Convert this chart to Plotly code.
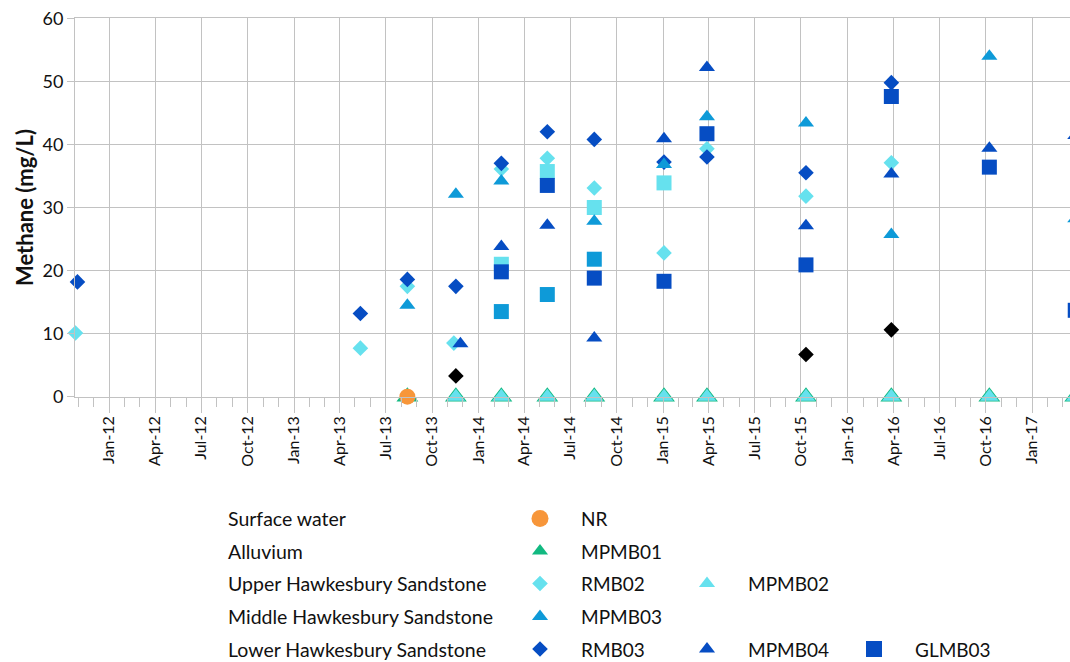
import datetime as dt
import plotly.graph_objects as go

# ---------------- data ----------------
nr_dates = ["2013-08-13"]
nr_vals = [0]

mpmb01_dates = ["2013-08-13", "2013-11-17", "2014-02-15", "2014-05-17", "2014-08-18",
                "2015-01-03", "2015-03-29", "2015-10-11", "2016-03-28", "2016-10-08", "2017-03-27"]
mpmb01_vals = [0, 0, 0, 0, 0, 0, 0, 0, 0, 0, 0]

mpmb02_dates = ["2013-11-17", "2014-02-15", "2014-05-17", "2014-08-18",
                "2015-01-03", "2015-03-29", "2015-10-11", "2016-03-28", "2016-10-08", "2017-03-27"]
mpmb02_vals = [0, 0, 0, 0, 0, 0, 0, 0, 0, 0]

rmb02_dates = ["2011-10-26", "2013-05-12", "2013-08-13", "2013-11-13", "2014-02-15", "2014-05-17",
               "2014-08-18", "2015-01-03", "2015-03-29", "2015-10-11", "2016-03-28"]
rmb02_vals = [10.1, 7.7, 17.5, 8.5, 36.1, 37.8, 33.1, 22.8, 39.3, 31.8, 37.1]

glmb01_dates = ["2014-02-15", "2014-05-17", "2014-08-18", "2015-01-03"]
glmb01_vals = [21.0, 35.7, 30.0, 33.9]

rmb03_dates = ["2011-10-30", "2013-05-12", "2013-08-13", "2013-11-17", "2014-02-15", "2014-05-17",
               "2014-08-18", "2015-01-03", "2015-03-29", "2015-10-11", "2016-03-28"]
rmb03_vals = [18.2, 13.2, 18.6, 17.5, 37.0, 42.0, 40.8, 37.2, 38.0, 35.5, 49.8]

mpmb03_dates = ["2013-08-13", "2013-11-17", "2014-02-15", "2014-08-18", "2015-01-03",
                "2015-03-29", "2015-10-11", "2016-03-28", "2016-10-08", "2017-03-27"]
mpmb03_vals = [14.5, 32.1, 34.2, 27.8, 36.8, 44.4, 43.4, 25.7, 54.0, 28.2]

glmb02_dates = ["2014-02-15", "2014-05-17", "2014-08-18"]
glmb02_vals = [13.5, 16.2, 21.8]

mpmb04_dates = ["2013-11-26", "2014-02-15", "2014-05-17", "2014-08-18", "2015-01-03",
                "2015-03-29", "2015-10-11", "2016-03-28", "2016-10-08", "2017-03-27"]
mpmb04_vals = [8.4, 23.8, 27.2, 9.3, 40.9, 52.2, 27.1, 35.3, 39.4, 41.4]

glmb03_dates = ["2014-02-15", "2014-05-17", "2014-08-18", "2015-01-03", "2015-03-29",
                "2015-10-11", "2016-03-28", "2016-10-08", "2017-03-27"]
glmb03_vals = [19.8, 33.5, 18.8, 18.3, 41.7, 20.9, 47.6, 36.4, 13.7]

other_dates = ["2013-11-17", "2015-10-11", "2016-03-28"]
other_vals = [3.3, 6.7, 10.6]

row_labels = ["Surface water", "Alluvium", "Upper Hawkesbury Sandstone",
              "Middle Hawkesbury Sandstone", "Lower Hawkesbury Sandstone"]
# legend layout: (row, column, series name)
legend_items = [(0, 0, "NR"), (1, 0, "MPMB01"), (2, 0, "RMB02"), (2, 1, "MPMB02"),
                (3, 0, "MPMB03"), (4, 0, "RMB03"), (4, 1, "MPMB04"), (4, 2, "GLMB03")]

# ---------------- styles ----------------
ORANGE = "#F7963A"
GREEN = "#12B981"
LIGHT = "#66E1EE"
MID = "#0E9AD8"
DARK = "#064DC3"

styles = {
    "MPMB01": dict(symbol="triangle-up", color=GREEN, size=19, lsize=14),
    "MPMB02": dict(symbol="triangle-up", color=LIGHT, size=16, lsize=14),
    "RMB02": dict(symbol="diamond", color=LIGHT, size=12, lsize=12),
    "GLMB01": dict(symbol="square", color=LIGHT, size=15, lsize=15),
    "RMB03": dict(symbol="diamond", color=DARK, size=12, lsize=12),
    "MPMB03": dict(symbol="triangle-up", color=MID, size=14, lsize=14),
    "GLMB02": dict(symbol="square", color=MID, size=15, lsize=15),
    "MPMB04": dict(symbol="triangle-up", color=DARK, size=14, lsize=14),
    "GLMB03": dict(symbol="square", color=DARK, size=15, lsize=16),
    "Other": dict(symbol="diamond", color="#000000", size=12, lsize=12),
    "NR": dict(symbol="circle", color=ORANGE, size=16, lsize=17),
}

series = [
    ("MPMB01", mpmb01_dates, mpmb01_vals),
    ("MPMB02", mpmb02_dates, mpmb02_vals),
    ("RMB02", rmb02_dates, rmb02_vals),
    ("GLMB01", glmb01_dates, glmb01_vals),
    ("RMB03", rmb03_dates, rmb03_vals),
    ("MPMB03", mpmb03_dates, mpmb03_vals),
    ("GLMB02", glmb02_dates, glmb02_vals),
    ("MPMB04", mpmb04_dates, mpmb04_vals),
    ("GLMB03", glmb03_dates, glmb03_vals),
    ("Other", other_dates, other_vals),
    ("NR", nr_dates, nr_vals),
]

FONT = "Lato"
VIEW_W, H = 1070, 662
W = 1100                     # figure runs past the window's right edge (as the cropped original)
PLOT_LEFT = 75
PX_PER_DAY = 0.5052
JAN12_PX = 109.3
jan12 = dt.datetime(2012, 1, 1)
x_start = jan12 - dt.timedelta(days=(JAN12_PX - PLOT_LEFT) / PX_PER_DAY)
x_end = jan12 + dt.timedelta(days=(W - JAN12_PX) / PX_PER_DAY)

fig = go.Figure()
for name, d, v in series:
    s = styles[name]
    fig.add_trace(go.Scatter(
        x=d, y=v, mode="markers", name=name, showlegend=False, cliponaxis=False,
        marker=dict(symbol=s["symbol"], color=s["color"], size=s["size"], line=dict(width=0)),
        xaxis="x", yaxis="y"))

# ---------------- custom legend (window-pixel helper axes) ----------------
row_y = [518.5, 551, 583.5, 616.5, 649]
col_x = [540, 707, 874]
annotations = []
for i, lab in enumerate(row_labels):
    annotations.append(dict(x=226, y=row_y[i], xref="x2", yref="y2", text=lab, showarrow=False,
                            xanchor="left", yanchor="middle",
                            font=dict(family=FONT, size=19.5, color="#111111")))
for r, c, name in legend_items:
    s = styles[name]
    fig.add_trace(go.Scatter(
        x=[col_x[c]], y=[row_y[r]], mode="markers", showlegend=False, hoverinfo="skip",
        marker=dict(symbol=s["symbol"], color=s["color"], size=s["lsize"], line=dict(width=0)),
        xaxis="x2", yaxis="y2"))
    annotations.append(dict(x=col_x[c] + 39, y=row_y[r], xref="x2", yref="y2", text=name,
                            showarrow=False, xanchor="left", yanchor="middle",
                            font=dict(family=FONT, size=19, color="#111111")))

annotations.append(dict(x=24 / W, y=(H - 208) / H, xref="paper", yref="paper",
                        text="<b>Methane (mg/L)</b>", textangle=-90, showarrow=False,
                        xanchor="center", yanchor="middle",
                        font=dict(family=FONT, size=22, color="#111111")))

GRID = "#c2c2c2"
fig.update_layout(
    width=W, height=H,
    margin=dict(l=0, r=0, t=0, b=0),
    paper_bgcolor="white", plot_bgcolor="rgba(0,0,0,0)",
    font=dict(family=FONT, color="#111111"),
    annotations=annotations,
    xaxis=dict(
        domain=[PLOT_LEFT / W, 1], range=[x_start, x_end],
        type="date", tickmode="linear", tick0="2012-01-01", dtick="M3",
        tickformat="%b-%y", tickangle=-90, ticks="outside", ticklen=15, tickcolor=GRID,
        showgrid=True, gridcolor=GRID, gridwidth=1,
        showline=True, linecolor=GRID, linewidth=1, mirror=True,
        minor=dict(dtick="M1", tick0="2011-11-01", ticks="outside", ticklen=9,
                   tickcolor=GRID, showgrid=False),
        tickfont=dict(family=FONT, size=16, color="#111111"),
        ticklabelstandoff=-3, automargin=False, zeroline=False, anchor="y",
    ),
    yaxis=dict(
        domain=[(H - 396.7) / H, (H - 18.3) / H], range=[0, 60],
        tickmode="linear", tick0=0, dtick=10, ticks="outside", ticklen=7, tickcolor=GRID,
        showgrid=True, gridcolor=GRID, gridwidth=1,
        showline=True, linecolor=GRID, linewidth=1,
        tickfont=dict(family=FONT, size=18, color="#111111"),
        ticklabeloverflow="allow",
        automargin=False, zeroline=False, anchor="x",
    ),
    xaxis2=dict(domain=[0, 1], range=[0, W], visible=False, anchor="y2", fixedrange=True),
    yaxis2=dict(domain=[0, 1], range=[H, 0], visible=False, anchor="x2", fixedrange=True),
)

fig.write_html(
    "out.html",
    config={"displayModeBar": False},
    post_script="document.body.style.margin='0px';document.body.style.overflow='hidden';",
)
